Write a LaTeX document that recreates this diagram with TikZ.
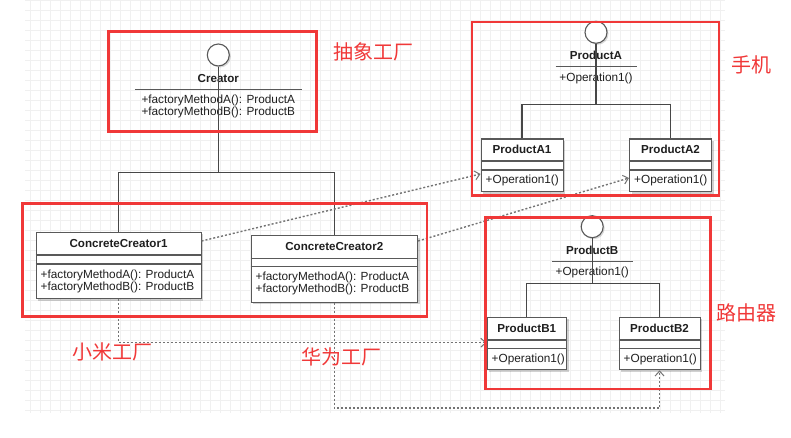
\documentclass[tikz,border=0pt]{standalone}
\usepackage{fontspec}
\setmainfont{Liberation Sans}
\newfontfamily\cjk{Noto Sans CJK SC}
\usetikzlibrary{calc,shadows,arrows.meta}
\definecolor{framered}{RGB}{240,56,56}
\pgfkeys{
  /umlclass/.cd,
  name/.initial=cls,
  position/.initial={0,0},
  width/.initial=80,
  height/.initial=52.5,
  title height/.initial=23,
  gap/.initial=8.5,
  title/.initial={},
  body/.initial={}
}
\pgfkeys{
  /umliface/.cd,
  name/.initial=ifc,
  position/.initial={0,0},
  rule/.initial=81,
  title/.initial={},
  body/.initial={}
}
\newcommand{\umlclass}[1][]{
    {
        \pgfkeys{/umlclass/.cd,#1}
        \pgfkeys{/umlclass/name/.get=\clsname}
        \pgfkeys{/umlclass/position/.get=\clsposition}
        \pgfkeys{/umlclass/width/.get=\clswidth}
        \pgfkeys{/umlclass/height/.get=\clsheight}
        \pgfkeys{/umlclass/title height/.get=\clstitleheight}
        \pgfkeys{/umlclass/gap/.get=\clsgap}
        \pgfkeys{/umlclass/title/.get=\clstitle}
        \pgfkeys{/umlclass/body/.get=\clsbody}
        \node[classbox,minimum width=\clswidth pt,minimum height=\clsheight pt] (\clsname) at (\clsposition) {};
        \draw[classline] ($ (\clsname.north west) + (0,\clstitleheight) $) -- ++(\clswidth,0);
        \draw[classline] ($ (\clsname.north west) + (0,\clstitleheight+\clsgap) $) -- ++(\clswidth,0);
        \node[classtitle] (\clsname-title) at ($ (\clsname.north) + (0,\clstitleheight/2) $) {\clstitle};
        \foreach \oprow [count=\k] in \clsbody {
            \node[classtext,anchor=base west] (\clsname-op\k) at ($ (\clsname.north west) + (5,\clstitleheight+\clsgap+2+12*\k) $) {\oprow};
        }
    }
}
\newcommand{\umliface}[1][]{
    {
        \pgfkeys{/umliface/.cd,#1}
        \pgfkeys{/umliface/name/.get=\ifcname}
        \pgfkeys{/umliface/position/.get=\ifcposition}
        \pgfkeys{/umliface/rule/.get=\ifcrule}
        \pgfkeys{/umliface/title/.get=\ifctitle}
        \pgfkeys{/umliface/body/.get=\ifcbody}
        \node[ifacecircle] (\ifcname) at (\ifcposition) {};
        \node[classtitle] (\ifcname-title) at ($ (\ifcname.center) + (0,23.5) $) {\ifctitle};
        \draw[classline] ($ (\ifcname.center) + (-\ifcrule/2,34.5) $) -- ++(\ifcrule,0);
        \foreach \oprow [count=\k] in \ifcbody {
            \node[classtext,anchor=base] (\ifcname-op\k) at ($ (\ifcname.center) + (0,34.5+2.5+12*\k) $) {\oprow};
        }
    }
}
\begin{document}
\begin{tikzpicture}[x=1pt,y=-1pt,
    classbox/.style={draw=black!65,fill=white,line width=1.1pt,inner sep=0pt,anchor=north west,
      drop shadow={shadow xshift=2pt,shadow yshift=-2pt,opacity=0.18,fill=black}},
    classline/.style={draw=black!65,line width=1.1pt},
    classtitle/.style={font=\bfseries\fontsize{11.6}{13}\selectfont,text=black!88,inner sep=0pt},
    classtext/.style={font=\fontsize{11.8}{12.4}\selectfont,text=black!88,inner sep=0pt},
    ifacecircle/.style={circle,draw=black!65,fill=white,line width=1.1pt,minimum size=22pt,inner sep=0pt,
      drop shadow={shadow xshift=1.5pt,shadow yshift=-1.5pt,opacity=0.15,fill=black}},
    tree/.style={draw=black!72,line width=1.3pt},
    depend/.style={draw=black!55,line width=1.4pt,dash pattern=on 2pt off 2pt,
      -{Straight Barb[length=5pt,width=9pt,line width=1pt]}},
    redframe/.style={draw=framered,line width=2.6pt},
    redlabel/.style={font=\cjk\fontsize{20}{22}\selectfont,text=framered,inner sep=0pt},
    gridline/.style={draw=black!6,line width=0.6pt,step=10pt}]
  \useasboundingbox (0,0) rectangle (791,438);
  \draw[gridline] (25,413) grid (725,0);

  % abstract creator and the two factories
  \umliface[name=creator,position={218.3,55},rule=166.7,title=Creator,
    body={+factoryMethodA(): ProductA,+factoryMethodB(): ProductB}]
  \umlclass[name=cc1,position={35.5,231.5},width=165,height=66.5,title height=23.5,gap=9,
    title=ConcreteCreator1,body={+factoryMethodA(): ProductA,+factoryMethodB(): ProductB}]
  \umlclass[name=cc2,position={250.5,235},width=166.5,height=66.5,title height=23.5,gap=8,
    title=ConcreteCreator2,body={+factoryMethodA(): ProductA,+factoryMethodB(): ProductB}]

  % products
  \umliface[name=pa,position={596,32.3},title=ProductA,body={+Operation1()}]
  \umlclass[name=pa1,position={480.5,138.5},width=82,title height=22.5,gap=9,
    title=ProductA1,body={+Operation1()}]
  \umlclass[name=pa2,position={629,138.5},width=82,title height=22.5,gap=9,
    title=ProductA2,body={+Operation1()}]
  \umliface[name=pb,position={592.2,226.7},title=ProductB,body={+Operation1()}]
  \umlclass[name=pb1,position={486.5,316.7},width=79.5,title height=23.3,gap=8.3,
    title=ProductB1,body={+Operation1()}]
  \umlclass[name=pb2,position={618.5,316.7},width=81,title height=23.3,gap=8.3,
    title=ProductB2,body={+Operation1()}]

  \coordinate (creator-join) at (218.3,172.5);
  \coordinate (pa-join) at (596,104.3);
  \coordinate (pb-join) at (592.2,283.3);
  \coordinate (hw-bend) at (500,408);

  \draw[tree] (creator.south) -- (creator-join);
  \draw[tree] (cc1.north) |- (creator-join) -| (cc2.north);
  \draw[tree] (pa.south) -- (pa-join);
  \draw[tree] (pa1.north) |- (pa-join) -| (pa2.north);
  \draw[tree] (pb.south) -- (pb-join);
  \draw[tree] (pb1.north) |- (pb-join) -| (pb2.north);

  \draw[depend] ([yshift=-9.5pt]cc1.north east) -- ([yshift=-35.5pt]pa1.north west);
  \draw[depend] ([yshift=-6pt]cc2.north east) -- ([yshift=-39.5pt]pa2.north west);
  \draw[depend] (cc1.south) |- ([yshift=-26pt]pb1.north west);
  \draw[depend] (cc2.south) |- (hw-bend) -| (pb2.south);

  % red frames and notes
  \draw[redframe] (108.5,31.5) rectangle (316.5,131.5);
  \draw[redframe] (472,22) rectangle (719,195.5);
  \draw[redframe] (22.5,203.5) rectangle (427,316.5);
  \draw[redframe] (485.5,217.5) rectangle (710.5,389);
  \node[redlabel] (abstract-note) at (373,52.3) {抽象工厂};
  \node[redlabel] (phone-note) at (751.7,65) {手机};
  \node[redlabel] (router-note) at (746.7,313.3) {路由器};
  \node[redlabel] (xiaomi-note) at (112.5,351.7) {小米工厂};
  \node[redlabel] (huawei-note) at (341,356.7) {华为工厂};
\end{tikzpicture}
\end{document}
